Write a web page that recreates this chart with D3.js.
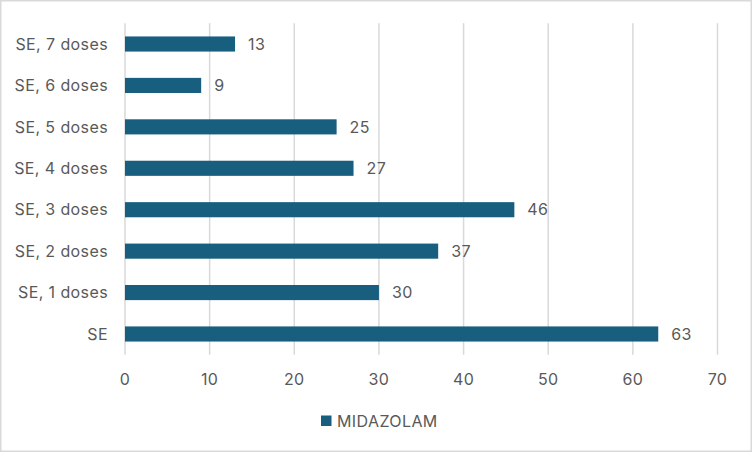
<!DOCTYPE html>
<html><head><meta charset="utf-8">
<script src="https://cdn.jsdelivr.net/npm/d3@7"></script>
<style>body{margin:0;background:#fff;} svg{display:block;} text{letter-spacing:0.4px;}</style>
</head><body>
<svg id="c" width="752" height="452"></svg>
<script>
const categories = ["SE, 7 doses","SE, 6 doses","SE, 5 doses","SE, 4 doses","SE, 3 doses","SE, 2 doses","SE, 1 doses","SE"];
const values = [13, 9, 25, 27, 46, 37, 30, 63];
const xTicks = [0,10,20,30,40,50,60,70];
const seriesName = "MIDAZOLAM";

const W = 752, H = 452;
const m = {left:125, right:34, top:23.3, bottom:97.3};
const color = "#175e7f";
const textColor = "#595959";
const font = "Inter, 'Liberation Sans', sans-serif";
const fs = 16;
const svg = d3.select("#c");
svg.append("rect").attr("x",0.75).attr("y",0.75).attr("width",W-1.5).attr("height",H-1.5)
  .attr("fill","#fff").attr("stroke","#d9d9d9").attr("stroke-width",1.5);

const x = d3.scaleLinear().domain([0,70]).range([m.left, 717.5]);
const y = d3.scaleBand().domain(categories).range([m.top, H-m.bottom]).paddingInner(0.635).paddingOuter(0.3175);

const g = svg.append("g");
g.selectAll("line.grid").data(xTicks).join("line").attr("class","grid")
  .attr("x1",d=>x(d)).attr("x2",d=>x(d)).attr("y1",m.top).attr("y2",H-m.bottom)
  .attr("stroke","#d9d9d9").attr("stroke-width",1.5);

g.selectAll("rect.bar").data(values).join("rect").attr("class","bar")
  .attr("x",x(0)).attr("y",(d,i)=>y(categories[i]))
  .attr("width",d=>x(d)-x(0)).attr("height",y.bandwidth()).attr("fill",color);

g.selectAll("text.val").data(values).join("text").attr("class","val")
  .attr("x",d=>x(d)+13).attr("y",(d,i)=>y(categories[i])+y.bandwidth()/2)
  .attr("dy","0.36em").attr("font-family",font).attr("font-size",fs).attr("fill",textColor).text(d=>d);

g.selectAll("text.cat").data(categories).join("text").attr("class","cat")
  .attr("x",108).attr("y",d=>y(d)+y.bandwidth()/2).attr("dy","0.36em").attr("text-anchor","end")
  .attr("font-family",font).attr("font-size",fs).attr("fill",textColor).text(d=>d);

g.selectAll("text.tick").data(xTicks).join("text").attr("class","tick")
  .attr("x",d=>x(d)).attr("y",379).attr("dy","0.36em").attr("text-anchor","middle")
  .attr("font-family",font).attr("font-size",fs).attr("fill",textColor).text(d=>d);

const lg = svg.append("g");
lg.append("rect").attr("x",321).attr("y",415.5).attr("width",10.5).attr("height",10.5).attr("fill",color);
lg.append("text").attr("x",337).attr("y",421).attr("dy","0.36em").attr("font-family",font)
  .attr("font-size",fs).attr("fill",textColor).text(seriesName);
</script>
</body></html>
